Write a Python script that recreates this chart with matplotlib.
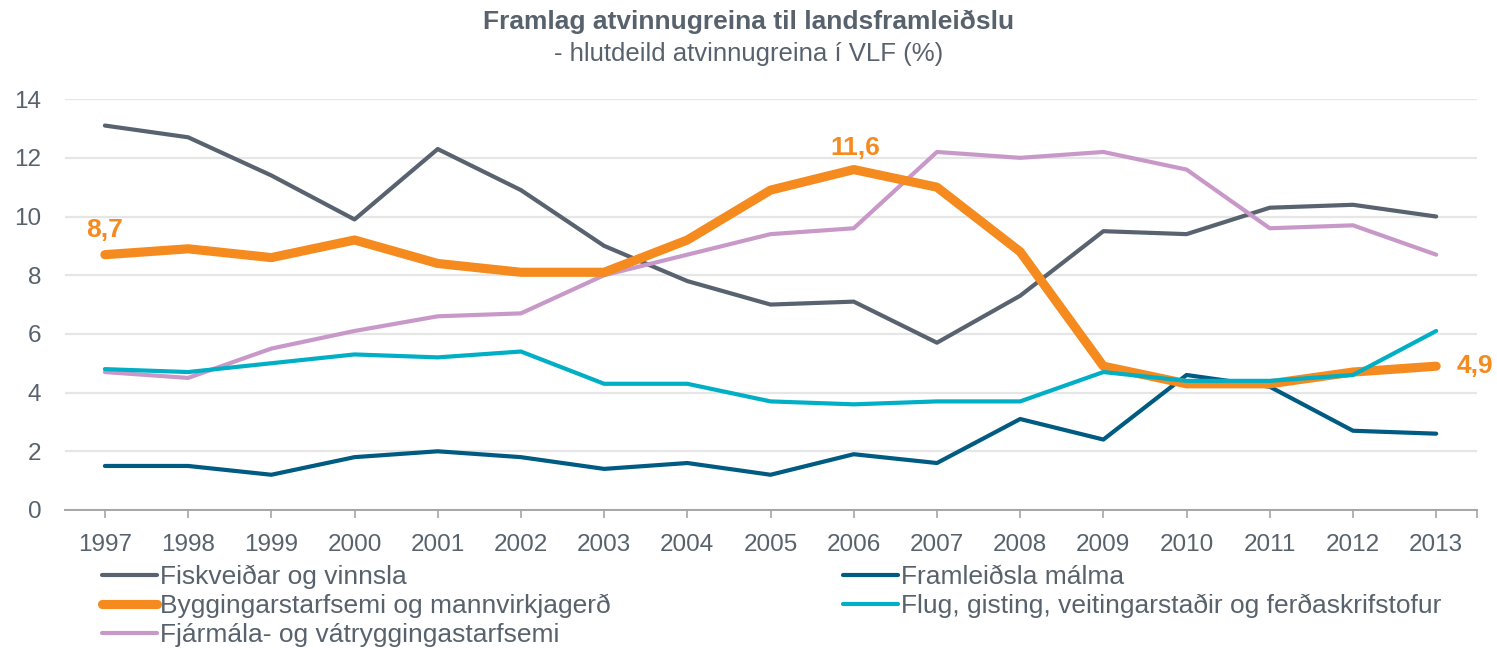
import matplotlib
matplotlib.use("Agg")
import matplotlib.pyplot as plt

plt.rcParams['font.family'] = ['Liberation Sans', 'DejaVu Sans']

years = list(range(1997, 2014))
fiskveidar = [13.1, 12.7, 11.4, 9.9, 12.3, 10.9, 9.0, 7.8, 7.0, 7.1, 5.7, 7.3, 9.5, 9.4, 10.3, 10.4, 10.0]
malmar = [1.5, 1.5, 1.2, 1.8, 2.0, 1.8, 1.4, 1.6, 1.2, 1.9, 1.6, 3.1, 2.4, 4.6, 4.2, 2.7, 2.6]
byggingar = [8.7, 8.9, 8.6, 9.2, 8.4, 8.1, 8.1, 9.2, 10.9, 11.6, 11.0, 8.8, 4.9, 4.3, 4.3, 4.7, 4.9]
flug = [4.8, 4.7, 5.0, 5.3, 5.2, 5.4, 4.3, 4.3, 3.7, 3.6, 3.7, 3.7, 4.7, 4.4, 4.4, 4.6, 6.1]
fjarmal = [4.7, 4.5, 5.5, 6.1, 6.6, 6.7, 8.0, 8.7, 9.4, 9.6, 12.2, 12.0, 12.2, 11.6, 9.6, 9.7, 8.7]

labels = {
    'fisk': 'Fiskveiðar og vinnsla',
    'malm': 'Framleiðsla málma',
    'bygg': 'Byggingarstarfsemi og mannvirkjagerð',
    'flug': 'Flug, gisting, veitingarstaðir og ferðaskrifstofur',
    'fjar': 'Fjármála- og vátryggingastarfsemi',
}

c_fisk = '#58636F'
c_malm = '#005B82'
c_bygg = '#F58A1F'
c_flug = '#00AFC5'
c_fjar = '#C899C8'
txt = '#58626D'

fig = plt.figure(figsize=(14.97, 6.48), dpi=100)
ax = fig.add_axes([0.0434, 0.213, 0.9432, 0.634])

kw = dict(solid_capstyle='round', solid_joinstyle='round')
l_fisk, = ax.plot(years, fiskveidar, color=c_fisk, lw=3.0, label=labels['fisk'], zorder=3, **kw)
l_malm, = ax.plot(years, malmar, color=c_malm, lw=3.0, label=labels['malm'], zorder=3, **kw)
l_fjar, = ax.plot(years, fjarmal, color=c_fjar, lw=3.0, label=labels['fjar'], zorder=3, **kw)
l_bygg, = ax.plot(years, byggingar, color=c_bygg, lw=6.6, label=labels['bygg'], zorder=4, **kw)
l_flug, = ax.plot(years, flug, color=c_flug, lw=3.0, label=labels['flug'], zorder=5, **kw)

ax.set_xlim(1996.52, 2013.49)
ax.set_ylim(0, 14)
ax.set_yticks(range(0, 15, 2))
ax.set_xticks(years)
ax.set_xticks([2013.49], minor=True)
ax.tick_params(axis='x', which='both', length=6, width=1.2, color='#A6A6A6', labelsize=17.5, labelcolor=txt, pad=11)
ax.tick_params(axis='y', length=0, labelsize=17.5, labelcolor=txt, pad=17)
ax.grid(axis='y', color='#E6E6E6', lw=1.6, zorder=0)
for s in ['top', 'right', 'left']:
    ax.spines[s].set_visible(False)
ax.spines['bottom'].set_color('#A6A6A6')
ax.spines['bottom'].set_linewidth(1.4)

# annotations
ax.annotate('8,7', (years[0], byggingar[0]), xytext=(0, 18), textcoords='offset points',
            ha='center', va='center', color=c_bygg, fontsize=19, fontweight='bold')
ax.annotate('11,6', (years[9], byggingar[9]), xytext=(1, 15.5), textcoords='offset points',
            ha='center', va='center', color=c_bygg, fontsize=19, fontweight='bold')
ax.annotate('4,9', (years[-1], byggingar[-1]), xytext=(15, 0), textcoords='offset points',
            ha='left', va='center', color=c_bygg, fontsize=19, fontweight='bold',
            annotation_clip=False)

fig.text(0.5, 0.966, 'Framlag atvinnugreina til landsframleiðslu', ha='center', va='center',
         fontsize=19, fontweight='bold', color=txt)
fig.text(0.5, 0.917, '- hlutdeild atvinnugreina í VLF (%)', ha='center', va='center',
         fontsize=18.5, color=txt)

handles = [l_fisk, l_bygg, l_fjar, l_malm, l_flug]
leg = fig.legend(handles, [h.get_label() for h in handles], ncol=2,
                 loc='upper left', bbox_to_anchor=(0.068, 0.128), frameon=False,
                 fontsize=19, handlelength=2.1, handletextpad=0.1,
                 labelspacing=0.17, columnspacing=8.8, borderaxespad=0, borderpad=0)
for t in leg.get_texts():
    t.set_color(txt)

fig.savefig('out.png', dpi=100)
